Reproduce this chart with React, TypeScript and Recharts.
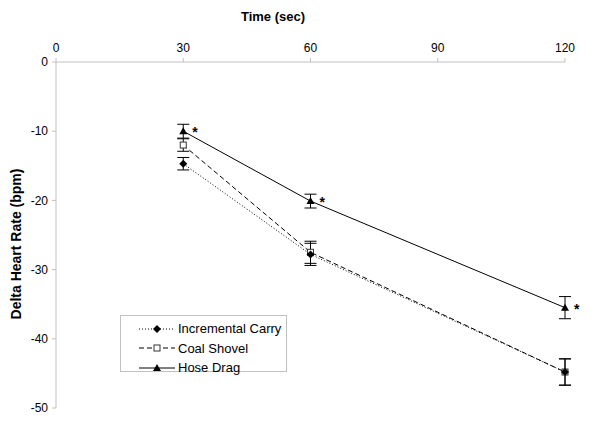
import { LineChart, Line, XAxis, YAxis, ErrorBar, LabelList } from 'recharts'

const times = [30, 60, 120]
const incrementalCarry = [-14.7, -27.8, -44.8]
const incrementalErr = [0.9, 1.6, 1.9]
const coalShovel = [-12.0, -27.5, -44.8]
const coalErr = [0.9, 1.6, 1.9]
const hoseDrag = [-10.0, -20.1, -35.5]
const hoseErr = [1.0, 1.0, 1.6]
const hoseMarks = ['*', '*', '*']

const xTicks = [0, 30, 60, 90, 120]
const yTicks = [0, -10, -20, -30, -40, -50]

const data = times.map((t, i) => ({
  time: t,
  inc: incrementalCarry[i],
  incErr: incrementalErr[i],
  coal: coalShovel[i],
  coalErr: coalErr[i],
  hose: hoseDrag[i],
  hoseErr: hoseErr[i],
  mark: hoseMarks[i],
}))

const FONT = '"Liberation Sans", Arial, sans-serif'
const AXIS = '#c0c0c0'

const Diamond = ({ cx, cy }: any) => (
  <polygon points={`${cx},${cy - 4} ${cx + 4},${cy} ${cx},${cy + 4} ${cx - 4},${cy}`} fill="#000" />
)
const Square = ({ cx, cy }: any) => (
  <rect x={cx - 3} y={cy - 3} width={6} height={6} fill="#fff" stroke="#333" strokeWidth={1} />
)
const Triangle = ({ cx, cy }: any) => (
  <polygon points={`${cx},${cy - 4} ${cx + 4},${cy + 3} ${cx - 4},${cy + 3}`} fill="#000" />
)

const Star = ({ x, y, value }: any) => (
  <text x={x + 9} y={y + 6} fontSize={14} fontWeight="bold" fontFamily={FONT} fill="#000">
    {value}
  </text>
)

const legendItems = [
  { name: 'Incremental Carry', dash: '1 2', Mark: Diamond },
  { name: 'Coal Shovel', dash: '5 3', Mark: Square },
  { name: 'Hose Drag', dash: undefined, Mark: Triangle },
]

export default function App() {
  return (
    <div style={{ position: 'absolute', left: 0, top: 0, width: 600, height: 428, background: '#fff', fontFamily: FONT }}>
      <LineChart width={600} height={428} data={data} margin={{ top: 30, right: 35, left: 0, bottom: 20 }}>
        <XAxis
          type="number"
          dataKey="time"
          orientation="top"
          domain={[0, 120]}
          ticks={xTicks}
          height={32}
          axisLine={{ stroke: AXIS }}
          tickLine={{ stroke: AXIS }}
          tickSize={4}
          tickMargin={6}
          tick={{ fill: '#000', fontSize: 12, fontFamily: FONT }}
        />
        <YAxis
          type="number"
          domain={[-50, 0]}
          ticks={yTicks}
          width={56}
          axisLine={{ stroke: AXIS }}
          tickLine={{ stroke: AXIS }}
          tickSize={4}
          tickMargin={4}
          tick={{ fill: '#000', fontSize: 12, fontFamily: FONT }}
        />
        <Line
          type="linear"
          dataKey="coal"
          stroke="#000"
          strokeWidth={1}
          strokeDasharray="5 3"
          dot={<Square />}
          activeDot={false}
          isAnimationActive={false}
        >
          <ErrorBar dataKey="coalErr" width={6} stroke="#000" strokeWidth={1} />
        </Line>
        <Line
          type="linear"
          dataKey="inc"
          stroke="#000"
          strokeWidth={1}
          strokeDasharray="1 2"
          dot={<Diamond />}
          activeDot={false}
          isAnimationActive={false}
        >
          <ErrorBar dataKey="incErr" width={6} stroke="#000" strokeWidth={1} />
        </Line>
        <Line
          type="linear"
          dataKey="hose"
          stroke="#000"
          strokeWidth={1}
          dot={<Triangle />}
          activeDot={false}
          isAnimationActive={false}
        >
          <ErrorBar dataKey="hoseErr" width={6} stroke="#000" strokeWidth={1} />
          <LabelList dataKey="mark" content={<Star />} />
        </Line>
      </LineChart>

      <div
        style={{
          position: 'absolute',
          left: 273,
          top: 16,
          transform: 'translate(-50%, -50%)',
          fontSize: 13,
          fontWeight: 'bold',
          whiteSpace: 'nowrap',
        }}
      >
        Time (sec)
      </div>
      <div
        style={{
          position: 'absolute',
          left: 16,
          top: 244,
          transform: 'translate(-50%, -50%) rotate(-90deg)',
          fontSize: 14,
          fontWeight: 'bold',
          whiteSpace: 'nowrap',
        }}
      >
        Delta Heart Rate (bpm)
      </div>

      <div
        style={{
          position: 'absolute',
          left: 120,
          top: 315,
          width: 167,
          height: 57,
          border: '1px solid #c0c0c0',
          boxSizing: 'border-box',
          background: '#fff',
          paddingTop: 3,
        }}
      >
        {legendItems.map(({ name, dash, Mark }) => (
          <div key={name} style={{ display: 'flex', alignItems: 'center', height: 19.5, fontSize: 13 }}>
            <svg width={36} height={12} style={{ marginLeft: 18, marginRight: 3 }}>
              <line x1={0} y1={6} x2={36} y2={6} stroke="#000" strokeWidth={1} strokeDasharray={dash} />
              <Mark cx={18} cy={6} />
            </svg>
            <span>{name}</span>
          </div>
        ))}
      </div>
    </div>
  )
}
